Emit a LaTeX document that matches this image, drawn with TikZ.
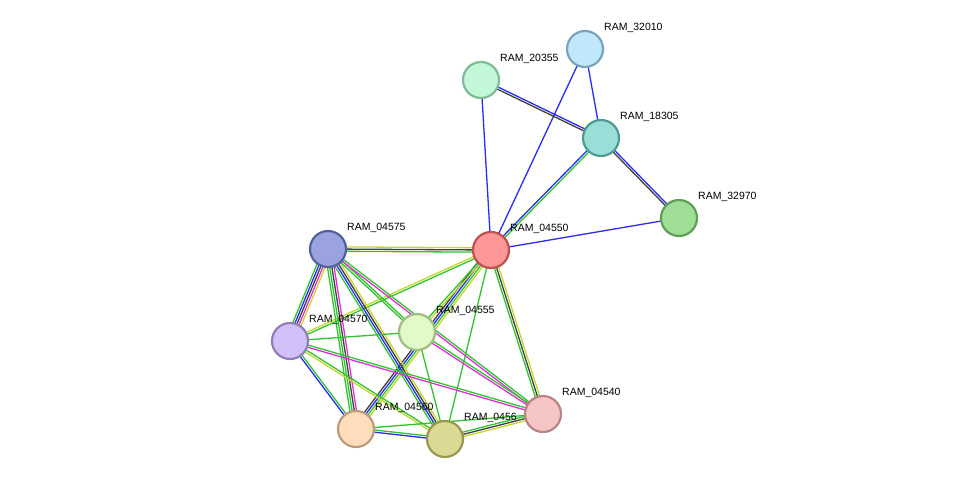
\documentclass[tikz,border=0pt]{standalone}
\usepackage{fontspec}
\setmainfont{Liberation Sans}
\usetikzlibrary{calc}
\definecolor{cgrn}{HTML}{2FC42F}
\definecolor{cblu}{HTML}{2B2BF5}
\definecolor{cblk}{HTML}{404040}
\definecolor{cylw}{HTML}{C4D62A}
\definecolor{cmag}{HTML}{E030D8}
\definecolor{f32010}{RGB}{192,232,251}\definecolor{d32010}{RGB}{122,163,189}
\definecolor{f20355}{RGB}{194,248,216}\definecolor{d20355}{RGB}{127,187,151}
\definecolor{f18305}{RGB}{153,223,215}\definecolor{d18305}{RGB}{78,154,149}
\definecolor{f32970}{RGB}{159,223,149}\definecolor{d32970}{RGB}{95,158,88}
\definecolor{f04550}{RGB}{254,151,151}\definecolor{d04550}{RGB}{192,80,80}
\definecolor{f04575}{RGB}{154,163,224}\definecolor{d04575}{RGB}{85,96,160}
\definecolor{f04555}{RGB}{224,251,197}\definecolor{d04555}{RGB}{160,187,133}
\definecolor{f04570}{RGB}{212,192,248}\definecolor{d04570}{RGB}{144,128,184}
\definecolor{f04540}{RGB}{246,198,198}\definecolor{d04540}{RGB}{184,133,133}
\definecolor{f04560}{RGB}{254,220,188}\definecolor{d04560}{RGB}{188,154,124}
\definecolor{f04565}{RGB}{220,217,148}\definecolor{d04565}{RGB}{154,152,80}
\tikzset{
  prot/.style={circle,minimum size=36pt,inner sep=0pt,line width=2.2pt,fill=f#1,draw=d#1},
  lab/.style={anchor=west,font=\fontsize{10.5}{12}\selectfont,inner sep=0pt},
}
\newcommand{\edg}[3]{%
  \foreach \c [count=\i] in {#3} {\xdef\nn{\i}}%
  \foreach \c [count=\i] in {#3} {%
    \pgfmathsetmacro{\off}{(\i-(\nn+1)/2)*2.2}%
    \draw[\c,line width=1.3pt] ($(#1)!\off pt!90:(#2)$) -- ($(#2)!\off pt!-90:(#1)$);%
  }%
}
\begin{document}
\begin{tikzpicture}[x=1pt,y=-1pt]
\useasboundingbox (0,0) rectangle (975,485);
\coordinate (a32010) at (585,49);
\coordinate (a20355) at (481,80);
\coordinate (a18305) at (601,138);
\coordinate (a32970) at (679,218);
\coordinate (a04550) at (491,250);
\coordinate (a04575) at (328,249);
\coordinate (a04555) at (417,332);
\coordinate (a04570) at (290,341);
\coordinate (a04540) at (543,414);
\coordinate (a04560) at (356,429);
\coordinate (a04565) at (445,439);
\edg{a04550}{a04575}{cylw,cblk,cgrn}
\edg{a04550}{a04560}{cblk,cblu,cgrn,cylw}
\edg{a04550}{a04555}{cgrn,cylw}
\edg{a04550}{a04570}{cylw,cgrn}
\edg{a04550}{a04540}{cgrn,cblk,cylw}
\edg{a04550}{a04565}{cgrn}
\edg{a04550}{a18305}{cgrn,cblu}
\edg{a04550}{a32010}{cblu}
\edg{a04550}{a20355}{cblu}
\edg{a04550}{a32970}{cblu}
\edg{a20355}{a18305}{cblk,cblu}
\edg{a32010}{a18305}{cblu}
\edg{a18305}{a32970}{cblk,cblu}
\edg{a04575}{a04570}{cgrn,cblu,cblk,cmag,cylw}
\edg{a04575}{a04560}{cgrn,cgrn,cblk,cmag}
\edg{a04575}{a04565}{cgrn,cblu,cblk,cylw}
\edg{a04575}{a04555}{cgrn,cgrn}
\edg{a04575}{a04540}{cmag,cgrn}
\edg{a04570}{a04555}{cgrn}
\edg{a04570}{a04560}{cblu,cgrn}
\edg{a04570}{a04565}{cylw,cgrn}
\edg{a04570}{a04540}{cmag,cgrn}
\edg{a04555}{a04565}{cgrn}
\edg{a04555}{a04540}{cmag,cgrn}
\edg{a04560}{a04565}{cblu,cgrn}
\edg{a04560}{a04540}{cgrn}
\edg{a04565}{a04540}{cylw,cblk,cgrn}
\node[lab] at ($(a32010)+(19,-21)$) {RAM\_32010};
\node[lab] at ($(a20355)+(19,-21)$) {RAM\_20355};
\node[lab] at ($(a18305)+(19,-21)$) {RAM\_18305};
\node[lab] at ($(a32970)+(19,-21)$) {RAM\_32970};
\node[lab] at ($(a04550)+(19,-21)$) {RAM\_04550};
\node[lab] at ($(a04575)+(19,-21)$) {RAM\_04575};
\node[lab] at ($(a04555)+(19,-21)$) {RAM\_04555};
\node[lab] at ($(a04570)+(19,-21)$) {RAM\_04570};
\node[lab] at ($(a04540)+(19,-21)$) {RAM\_04540};
\node[lab] at ($(a04560)+(19,-21)$) {RAM\_04560};
\node[lab] at ($(a04565)+(19,-21)$) {RAM\_0456};
\node[prot=32010] (n32010) at (a32010) {};
\node[prot=20355] (n20355) at (a20355) {};
\node[prot=18305] (n18305) at (a18305) {};
\node[prot=32970] (n32970) at (a32970) {};
\node[prot=04550] (n04550) at (a04550) {};
\node[prot=04575] (n04575) at (a04575) {};
\node[prot=04555] (n04555) at (a04555) {};
\node[prot=04570] (n04570) at (a04570) {};
\node[prot=04540] (n04540) at (a04540) {};
\node[prot=04560] (n04560) at (a04560) {};
\node[prot=04565] (n04565) at (a04565) {};
\end{tikzpicture}
\end{document}
